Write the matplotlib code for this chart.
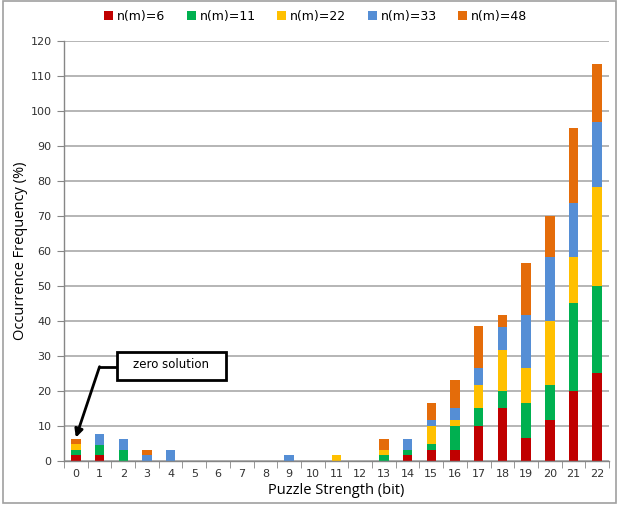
import matplotlib
matplotlib.use("Agg")
import matplotlib.pyplot as plt
from matplotlib.patches import Rectangle
import numpy as np

strength = list(range(23))
series = ["n(m)=6", "n(m)=11", "n(m)=22", "n(m)=33", "n(m)=48"]

nm6 = [1.5, 1.5, 0, 0, 0, 0, 0, 0, 0, 0, 0, 0, 0, 0, 1.5, 3.2, 3.2, 9.9, 15.0, 6.5, 11.7, 19.8, 25.0]
nm11 = [1.6, 3.1, 3.1, 0, 0, 0, 0, 0, 0, 0, 0, 0, 0, 1.5, 1.6, 1.6, 6.7, 5.2, 4.9, 10.0, 9.9, 25.2, 24.9]
nm22 = [1.6, 0, 0, 0, 0, 0, 0, 0, 0, 0, 0, 1.5, 0, 1.6, 0, 5.1, 1.8, 6.5, 11.9, 10.0, 18.4, 13.4, 28.4]
nm33 = [0, 3.1, 3.1, 1.5, 3.1, 0, 0, 0, 0, 1.5, 0, 0, 0, 0, 3.2, 1.8, 3.3, 5.0, 6.5, 15.1, 18.4, 15.2, 18.5]
nm48 = [1.6, 0, 0, 1.6, 0, 0, 0, 0, 0, 0, 0, 0, 0, 3.2, 0, 4.9, 8.1, 11.8, 3.3, 15.1, 11.7, 21.5, 16.6]

colors = ["#C00000", "#00B050", "#FFC000", "#558ED5", "#E46C0A"]
grid_col = "#B0B0B0"
axis_col = "#868686"

fig = plt.figure(figsize=(6.19, 5.09), dpi=100)
ax = fig.add_axes([0.1034, 0.0949, 0.8805, 0.824])

# gray frame around the whole chart
fig.patches.append(Rectangle((0.005, 0.012), 0.99, 0.986, transform=fig.transFigure,
                             fill=False, edgecolor="#A0A0A0", linewidth=1.2))

x = np.array(strength)
bottom = np.zeros(len(strength))
for name, vals, col in zip(series, [nm6, nm11, nm22, nm33, nm48], colors):
    ax.bar(x, vals, width=0.4, bottom=bottom, color=col, label=name, zorder=2)
    bottom += np.array(vals)

ax.set_xlim(-0.5, 22.5)
ax.set_ylim(0, 120)
ax.set_yticks(range(0, 121, 10))
ax.set_xticks(x)
ax.set_xticks(np.arange(-0.5, 23, 1), minor=True)
ax.yaxis.grid(True, color=grid_col, linewidth=1.3, zorder=0)
ax.set_axisbelow(True)

for s in ["top", "right"]:
    ax.spines[s].set_visible(False)
for s in ["left", "bottom"]:
    ax.spines[s].set_color(axis_col)
    ax.spines[s].set_linewidth(1.0)

ax.tick_params(axis="y", length=5, color=axis_col, labelsize=8, pad=4, labelcolor="#333333")
ax.tick_params(axis="x", which="major", length=0, labelsize=8, pad=6, labelcolor="#333333")
ax.tick_params(axis="x", which="minor", length=5, color=axis_col)

ax.set_ylabel("Occurrence Frequency (%)", fontsize=10.5, family="Open Sans", labelpad=2)
ax.set_xlabel("Puzzle Strength (bit)", fontsize=10.5, family="Open Sans", labelpad=3)

fig.legend(loc="center", bbox_to_anchor=(0.51, 0.968), ncol=5, frameon=False,
           fontsize=9, handlelength=0.75, handleheight=0.75, handletextpad=0.3,
           columnspacing=1.7)

# callout pointing at the bar for strength 0
ax.add_patch(Rectangle((1.73, 23.1), 4.6, 8.0, facecolor="white", edgecolor="black",
                       linewidth=2, zorder=5))
ax.text(4.03, 27.4, "zero solution", fontsize=8.5, ha="center", va="center", zorder=6)
ax.plot([1.0, 1.73], [26.9, 26.9], color="black", linewidth=2, zorder=4)
ax.annotate("", xy=(0, bottom[0] + 0.3), xytext=(1.0, 26.9), zorder=4,
            arrowprops=dict(arrowstyle="-|>", color="black", linewidth=2,
                            mutation_scale=12, shrinkA=0, shrinkB=0))

fig.savefig("out.png", dpi=100)
